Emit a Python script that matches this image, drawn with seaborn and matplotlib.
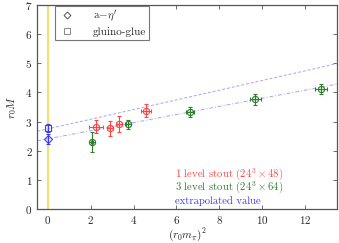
import numpy as np
import pandas as pd
import matplotlib
matplotlib.use("Agg")
import matplotlib.pyplot as plt
import seaborn as sns

# 1 level stout (24^3 x 48)
red_x = [2.25, 2.90, 3.31, 4.57]
red_y = [2.83, 2.77, 2.92, 3.38]
red_xerr = [0.34, 0.15, 0.15, 0.23]
red_yerr = [0.21, 0.26, 0.26, 0.21]

# 3 level stout (24^3 x 64)
green_x = [2.05, 3.76, 6.65, 9.69, 12.75]
green_y = [2.29, 2.91, 3.32, 3.76, 4.11]
green_xerr = [0.06, 0.10, 0.18, 0.25, 0.29]
green_yerr = [0.35, 0.15, 0.17, 0.19, 0.17]

# extrapolated values at m_pi = 0
extr_labels = ["a$-\\eta'$", "gluino-glue"]
extr_y = [2.40, 2.77]
extr_yerr = [0.16, 0.14]

# linear chiral fits (intercept, slope)
fit_glue = (2.75, 0.166)
fit_eta = (2.41, 0.139)

sns.set_style("ticks")
plt.rcParams['font.family'] = ['cmr10', 'DejaVu Serif']
plt.rcParams['mathtext.fontset'] = 'cm'
plt.rcParams['axes.formatter.use_mathtext'] = True
plt.rcParams['font.size'] = 8

red = '#ff4444'
green = '#2e7d2e'
blue = '#3a3aff'
line_blue = '#8c8cff'

fig = plt.figure(figsize=(3.39, 2.43), dpi=100)
ax = fig.add_axes([0.110, 0.140, 0.884, 0.839])

ax.axvline(0, color='#f7dc7a', lw=1.6, zorder=1)

xs = np.array([-0.5, 13.5])
fits = pd.DataFrame({
    'x': np.concatenate([xs, xs]),
    'y': np.concatenate([fit_glue[0] + fit_glue[1] * xs, fit_eta[0] + fit_eta[1] * xs]),
    'fit': ['glue'] * 2 + ['eta'] * 2,
})
sns.lineplot(data=fits[fits.fit == 'glue'], x='x', y='y', ax=ax, color=line_blue,
             lw=0.7, alpha=0.8, linestyle=(0, (3, 2)), legend=False)
sns.lineplot(data=fits[fits.fit == 'eta'], x='x', y='y', ax=ax, color=line_blue,
             lw=0.7, alpha=0.8, linestyle=(0, (4, 2, 1, 2)), legend=False)

for x, y, xe, ye, c in [(red_x, red_y, red_xerr, red_yerr, red),
                        (green_x, green_y, green_xerr, green_yerr, green)]:
    ax.errorbar(x, y, xerr=xe, yerr=ye, fmt='o', ms=4.5, mfc='none', mec=c,
                mew=0.8, ecolor=c, elinewidth=0.8, capsize=1.5, capthick=0.8, zorder=3)
    ax.plot(x, y, '+', ms=4.5, mew=0.8, color=c, zorder=4)

ax.errorbar([0], [extr_y[0]], yerr=[extr_yerr[0]], fmt='D', ms=4, mfc='none', mec=blue,
            mew=0.8, ecolor=blue, elinewidth=0.8, capsize=1.5, zorder=3)
ax.errorbar([0], [extr_y[1]], yerr=[extr_yerr[1]], fmt='s', ms=5, mfc='none', mec=blue,
            mew=0.8, ecolor=blue, elinewidth=0.8, capsize=1.5, zorder=3)

# legend with grey symbols
h1, = ax.plot([], [], 'D', ms=3.5, mfc='none', mec='#555555', mew=0.7)
h2, = ax.plot([], [], 's', ms=4.5, mfc='none', mec='#888888', mew=0.7)
leg = ax.legend([h1, h2], extr_labels, loc='upper left', bbox_to_anchor=(0.055, 1.0),
                frameon=True, fancybox=False, edgecolor='#777777', framealpha=1,
                borderpad=0.25, handletextpad=1.6, borderaxespad=0.1, labelspacing=0.25,
                handlelength=1.6, fontsize=8)
leg.get_frame().set_linewidth(0.8)

ax.text(5.95, 1.16, r"1 level stout $(24^3\times48)$", color=red, fontsize=7.7, va='center')
ax.text(5.95, 0.72, r"3 level stout $(24^3\times64)$", color=green, fontsize=7.7, va='center')
ax.text(5.95, 0.29, "extrapolated value", color=blue, fontsize=7.7, va='center')

ax.set_xlim(-0.5, 13.5)
ax.set_ylim(0, 7)
ax.set_xticks([0, 2, 4, 6, 8, 10, 12])
ax.set_yticks(range(8))
ax.tick_params(direction='in', top=True, right=True, length=3, width=0.6,
               color='#555555', labelsize=8, pad=3.5)
for s in ax.spines.values():
    s.set_color('#555555')
    s.set_linewidth(0.9)
ax.set_xlabel(r"$(r_0 m_\pi)^2$", fontsize=8, va='center')
ax.set_ylabel(r"$r_0 M$", fontsize=8, va='center')
ax.xaxis.set_label_coords(0.5, -0.125)
ax.yaxis.set_label_coords(-0.085, 0.5)

fig.savefig("out.png", dpi=100)
